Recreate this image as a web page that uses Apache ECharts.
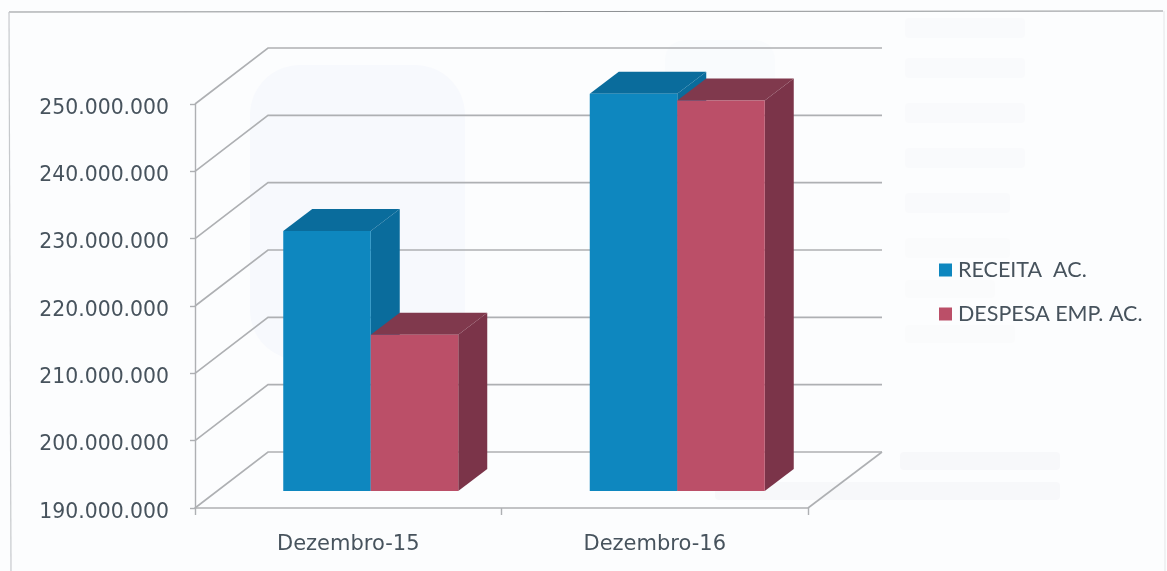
<!DOCTYPE html>
<html>
<head>
<meta charset="utf-8">
<style>
html,body{margin:0;padding:0;background:#fcfdfe;}
#c{width:1167px;height:571px;filter:blur(0.6px);}
</style>
<script src="https://cdn.jsdelivr.net/npm/echarts@6/dist/echarts.min.js"></script>
</head>
<body>
<div id="c"></div>
<script>
const categories = ['Dezembro-15', 'Dezembro-16'];
const receita = [228600000, 249000000];
const despesa = [213200000, 248000000];
const wallTicks = [190000000, 200000000, 210000000, 220000000, 230000000, 240000000, 250000000];
const seriesNames = ['RECEITA  AC.', 'DESPESA EMP. AC.'];

const WALL = { dx: 73, dy: -56 };
const BAR = { width: 87.5, dx: 29, dy: -22, planeX: 22.5, planeY: -17 };
const LINE = '#aeb0b3';
const TEXT = '#47535d';

function fmt(v) { return String(v).replace(/\B(?=(\d{3})+$)/g, '.'); }

function barRenderer(side, front, sideCol, topCol) {
  return function (params, api) {
    const top = api.coord([api.value(0), api.value(1)]);
    const base = api.coord([api.value(0), 190000000]);
    const x0 = top[0] + BAR.planeX + (side === 0 ? -BAR.width : 0);
    const x1 = x0 + BAR.width;
    const yT = top[1] + BAR.planeY;
    const yB = base[1] + BAR.planeY;
    const d = BAR;
    return {
      type: 'group',
      children: [
        { type: 'polygon', shape: { points: [[x1, yT], [x1 + d.dx, yT + d.dy], [x1 + d.dx, yB + d.dy], [x1, yB]] }, style: { fill: sideCol } },
        { type: 'polygon', shape: { points: [[x0, yT], [x0 + d.dx, yT + d.dy], [x1 + d.dx, yT + d.dy], [x1, yT]] }, style: { fill: topCol } },
        { type: 'rect', shape: { x: x0, y: yT, width: d.width, height: yB - yT }, style: { fill: front } }
      ]
    };
  };
}

function wallRenderer(params, api) {
  const v = api.value(1);
  const p = api.coord([0, v]);
  const cs = params.coordSys;
  const y = p[1];
  const xL = cs.x, xR = cs.x + cs.width;
  const children = [{
    type: 'polyline',
    shape: { points: [[xL, y], [xL + WALL.dx, y + WALL.dy], [xR + WALL.dx + 1, y + WALL.dy]] },
    style: { stroke: LINE, lineWidth: 1.6, fill: 'none' }
  }];
  if (v === wallTicks[0]) {
    children.push({
      type: 'line',
      shape: { x1: xR, y1: y, x2: xR + WALL.dx + 1, y2: y + WALL.dy },
      style: { stroke: LINE, lineWidth: 1.6 }
    });
  }
  return { type: 'group', children };
}

const ghost = [
  [250, 65, 215, 295, 50, '#f7f9fd'], [665, 40, 110, 60, 20, '#f9fbfd'],
  [905, 18, 120, 20, 4, '#f9fafc'], [905, 58, 120, 20, 4, '#f9fafc'], [905, 103, 120, 20, 4, '#f9fafc'],
  [905, 148, 120, 20, 4, '#f9fafc'], [905, 193, 105, 20, 4, '#f9fafc'], [905, 238, 105, 20, 4, '#fafbfc'],
  [905, 280, 90, 18, 4, '#fafbfc'], [905, 325, 110, 18, 4, '#fafbfc'],
  [900, 452, 160, 18, 4, '#f7f8fa'], [715, 482, 345, 18, 4, '#f7f8fa']
];

const chart = echarts.init(document.getElementById('c'), null, { renderer: 'canvas' });
chart.setOption({
  animation: false,
  backgroundColor: '#fcfdfe',
  graphic: {
    elements: ghost.map(g => ({
      type: 'rect', z: -10, silent: true,
      shape: { x: g[0], y: g[1], width: g[2], height: g[3], r: g[4] },
      style: { fill: g[5] }
    })).concat([
      { type: 'line', z: 0, shape: { x1: 9, y1: 12, x2: 1163, y2: 11 }, style: { stroke: '#8f9295', lineWidth: 1.2 } },
      { type: 'line', z: 0, shape: { x1: 9, y1: 12, x2: 11, y2: 571 }, style: { stroke: '#c6c9cc', lineWidth: 1.2 } },
      { type: 'line', z: 0, shape: { x1: 1164, y1: 11, x2: 1165, y2: 571 }, style: { stroke: '#e4e6e8', lineWidth: 1 } }
    ])
  },
  grid: { left: 195, right: 359, top: 104, bottom: 63 },
  legend: {
    data: seriesNames,
    orient: 'vertical',
    left: 934,
    top: 254,
    itemWidth: 13,
    itemHeight: 13,
    itemGap: 22,
    icon: 'rect',
    selectedMode: false,
    textStyle: { color: TEXT, fontFamily: 'Lato', fontSize: 21.5, padding: [0, 0, 0, 1] }
  },
  xAxis: {
    type: 'category',
    data: categories,
    axisLine: { lineStyle: { color: LINE, width: 1.6 } },
    axisTick: { show: true, length: 7, lineStyle: { color: LINE, width: 1.4 } },
    axisLabel: { color: TEXT, fontFamily: 'DejaVu Sans', fontSize: 21, margin: 26 }
  },
  yAxis: {
    type: 'value',
    min: 190000000,
    max: 250000000,
    interval: 10000000,
    axisLine: { show: true, lineStyle: { color: LINE, width: 1.4 } },
    axisTick: { show: true, length: 5, lineStyle: { color: LINE, width: 1.4 } },
    splitLine: { show: false },
    axisLabel: { color: TEXT, fontFamily: 'DejaVu Sans', fontSize: 20.4, margin: 26, verticalAlign: 'top', lineHeight: 9, formatter: fmt }
  },
  series: [
    {
      type: 'custom', name: 'wall', z: 1, silent: true,
      renderItem: wallRenderer,
      encode: { x: 0, y: 1 },
      data: wallTicks.map(v => [0, v])
    },
    {
      type: 'custom', name: seriesNames[0], z: 3,
      itemStyle: { color: '#0e87bf' },
      renderItem: barRenderer(0, '#0e87bf', '#0a6c9c', '#0a6c9c'),
      encode: { x: 0, y: 1 },
      data: receita.map((v, i) => [i, v])
    },
    {
      type: 'custom', name: seriesNames[1], z: 4,
      itemStyle: { color: '#bb4f68' },
      renderItem: barRenderer(1, '#bb4f68', '#7b3449', '#80394d'),
      encode: { x: 0, y: 1 },
      data: despesa.map((v, i) => [i, v])
    }
  ]
});
</script>
</body>
</html>
